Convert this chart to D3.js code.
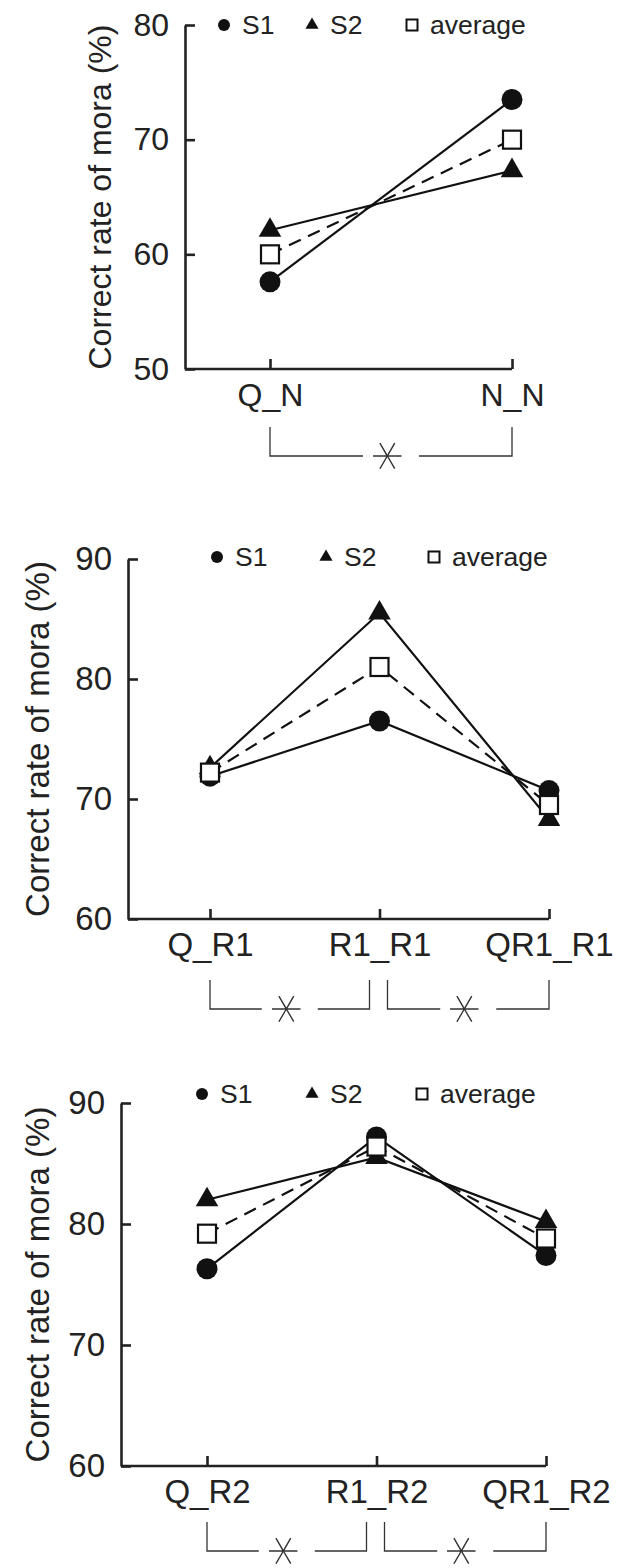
<!DOCTYPE html>
<html>
<head>
<meta charset="utf-8">
<script src="https://cdn.jsdelivr.net/npm/d3@7"></script>
<style>
  body { margin: 0; background: #fff; }
  svg { display: block; font-family: "Liberation Sans", Arial, sans-serif; }
</style>
</head>
<body>
<svg id="chart"></svg>
<script>
// panel 1
const cats1 = ["Q_N", "N_N"];
const s1_1 = [57.6, 73.5];
const s2_1 = [62.1, 67.3];
const avg_1 = [60.0, 70.0];
const yTicks1 = [50, 60, 70, 80];
const sig1 = [["Q_N", "N_N"]];

// panel 2
const cats2 = ["Q_R1", "R1_R1", "QR1_R1"];
const s1_2 = [71.9, 76.5, 70.7];
const s2_2 = [72.6, 85.5, 68.3];
const avg_2 = [72.2, 81.0, 69.5];
const yTicks2 = [60, 70, 80, 90];
const sig2 = [["Q_R1", "R1_R1"], ["R1_R1", "QR1_R1"]];

// panel 3
const cats3 = ["Q_R2", "R1_R2", "QR1_R2"];
const s1_3 = [76.3, 87.2, 77.4];
const s2_3 = [82.0, 85.5, 80.2];
const avg_3 = [79.2, 86.4, 78.8];
const yTicks3 = [60, 70, 80, 90];
const sig3 = [["Q_R2", "R1_R2"], ["R1_R2", "QR1_R2"]];

const seriesNames = ["S1", "S2", "average"];

class DotLineChart {

    constructor( config, data ){
        this.config = {
            parent: config.parent,
            axisX: config.axisX,
            xRange: config.xRange,
            yRange: config.yRange,
            yDomain: config.yDomain,
            titleX: config.titleX,
            fontSize: config.fontSize || 32,
            legend: config.legend,
            bracketY: config.bracketY,
        }
        this.data = data;
        this.init();
    }

    init(){
        let self = this;
        const c = self.config;

        self.chart = c.parent.append('g');

        self.xscale = d3.scalePoint()
            .domain( self.data.cats )
            .range( c.xRange );

        self.yscale = d3.scaleLinear()
            .domain( c.yDomain )
            .range( c.yRange );

        self.xaxis = d3.axisBottom( self.xscale )
            .tickSizeInner(-10)
            .tickSizeOuter(0)
            .tickPadding(14);

        self.yaxis = d3.axisLeft( self.yscale )
            .tickValues( self.data.yTicks )
            .tickSizeInner(-10)
            .tickSizeOuter(0)
            .tickPadding(16);
    }

    render(){
        let self = this;
        const c = self.config;
        const d = self.data;

        // axes
        const xg = self.chart.append('g')
            .attr('transform', `translate(0, ${c.yRange[0]})`)
            .call( self.xaxis );
        xg.select('.domain').remove();
        xg.append('line')
            .attr('x1', c.axisX).attr('x2', c.xRange[1]);

        const yg = self.chart.append('g')
            .attr('transform', `translate(${c.axisX}, 0)`)
            .call( self.yaxis );

        [xg, yg].forEach(g => {
            g.selectAll('path, line').attr('stroke', '#222').attr('stroke-width', 2.6);
            g.selectAll('text')
                .attr('fill', '#222')
                .attr('font-size', c.fontSize)
                .attr('font-family', '"Liberation Sans", Arial, sans-serif');
        });

        // y title
        self.chart.append('text')
            .attr('transform', `translate(${c.titleX}, ${(c.yRange[0] + c.yRange[1]) / 2}) rotate(-90)`)
            .attr('text-anchor', 'middle')
            .attr('dominant-baseline', 'central')
            .attr('font-size', c.fontSize)
            .attr('fill', '#222')
            .text('Correct rate of mora (%)');

        // lines
        const line = d3.line()
            .x( (v, i) => self.xscale(d.cats[i]) )
            .y( v => self.yscale(v) );

        const series = [
            { name: seriesNames[0], values: d.s1, dash: null },
            { name: seriesNames[1], values: d.s2, dash: null },
            { name: seriesNames[2], values: d.avg, dash: '13,8' },
        ];

        self.chart.selectAll('path.series')
            .data(series)
            .enter()
            .append('path')
            .attr('class', 'series')
            .attr('d', s => line(s.values))
            .attr('fill', 'none')
            .attr('stroke', '#111')
            .attr('stroke-width', 2.2)
            .attr('stroke-dasharray', s => s.dash);

        // markers
        const circ = d3.symbol().type(d3.symbolCircle).size(Math.PI * 10.5 * 10.5);
        const tri = d3.symbol().type(d3.symbolTriangle).size(220);

        self.chart.selectAll('path.m1')
            .data(d.s1).enter().append('path')
            .attr('transform', (v, i) => `translate(${self.xscale(d.cats[i])}, ${self.yscale(v)})`)
            .attr('d', circ)
            .attr('fill', '#111');

        self.chart.selectAll('path.m2')
            .data(d.s2).enter().append('path')
            .attr('transform', (v, i) => `translate(${self.xscale(d.cats[i])}, ${self.yscale(v)})`)
            .attr('d', tri)
            .attr('fill', '#111');

        self.chart.selectAll('rect.m3')
            .data(d.avg).enter().append('rect')
            .attr('x', (v, i) => self.xscale(d.cats[i]) - 9)
            .attr('y', v => self.yscale(v) - 9)
            .attr('width', 18).attr('height', 18)
            .attr('fill', '#fff')
            .attr('stroke', '#111')
            .attr('stroke-width', 2.2);

        // legend
        const lg = self.chart.append('g')
            .attr('transform', `translate(0, ${c.legend.y})`);
        const lsym = [
            d3.symbol().type(d3.symbolCircle).size(Math.PI * 6 * 6)(),
            d3.symbol().type(d3.symbolTriangle).size(75)(),
        ];
        seriesNames.forEach((name, i) => {
            const x = c.legend.xs[i];
            if (i < 2) {
                lg.append('path').attr('d', lsym[i])
                    .attr('transform', `translate(${x}, 0)`)
                    .attr('fill', '#111');
            } else {
                lg.append('rect')
                    .attr('x', x - 5.5).attr('y', -5.5)
                    .attr('width', 11).attr('height', 11)
                    .attr('fill', '#fff').attr('stroke', '#111').attr('stroke-width', 2);
            }
            lg.append('text')
                .attr('x', x + 18)
                .attr('y', 0)
                .attr('dominant-baseline', 'central')
                .attr('font-size', 26.5)
                .attr('fill', '#222')
                .text(name);
        });

        // significance brackets
        const bg = self.chart.append('g');
        d.sig.forEach(pair => {
            let x1 = self.xscale(pair[0]);
            let x2 = self.xscale(pair[1]);
            if (d.sig.length > 1) {
                if (pair[0] !== d.cats[0]) x1 += 8;
                if (pair[1] !== d.cats[d.cats.length - 1]) x2 -= 10;
            }
            const mid = (x1 + x2) / 2;
            const y0 = c.bracketY, y1 = c.bracketY + 29;
            bg.append('path')
                .attr('d', `M${mid - 28},${y1}H${x1}V${y0}`)
                .attr('fill', 'none').attr('stroke', '#333').attr('stroke-width', 1.3);
            bg.append('path')
                .attr('d', `M${mid + 28},${y1}H${x2}V${y0}`)
                .attr('fill', 'none').attr('stroke', '#333').attr('stroke-width', 1.3);
            // thin six-armed asterisk, turned so one arm stands upright
            bg.append('text')
                .attr('x', mid)
                .attr('y', y1 + 36)
                .attr('transform', `rotate(90, ${mid}, ${y1})`)
                .attr('text-anchor', 'middle')
                .attr('font-family', '"DejaVu Sans", sans-serif')
                .attr('font-weight', 200)
                .attr('font-size', 62)
                .attr('fill', '#333')
                .text('*');
        });
    }
}

const svg = d3.select('#chart')
    .attr('width', 622)
    .attr('height', 1568);

new DotLineChart({
    parent: svg,
    axisX: 185,
    xRange: [270, 512],
    yRange: [369, 25],
    yDomain: [50, 80],
    titleX: 100,
    fontSize: 32,
    legend: { y: 25, xs: [224, 312, 412] },
    bracketY: 427,
}, { cats: cats1, s1: s1_1, s2: s2_1, avg: avg_1, yTicks: yTicks1, sig: sig1 }).render();

new DotLineChart({
    parent: svg,
    axisX: 128,
    xRange: [210, 549],
    yRange: [919, 559],
    yDomain: [60, 90],
    titleX: 37,
    fontSize: 33,
    legend: { y: 557, xs: [217, 326, 434] },
    bracketY: 980,
}, { cats: cats2, s1: s1_2, s2: s2_2, avg: avg_2, yTicks: yTicks2, sig: sig2 }).render();

new DotLineChart({
    parent: svg,
    axisX: 121,
    xRange: [207, 546],
    yRange: [1466, 1103],
    yDomain: [60, 90],
    titleX: 37,
    fontSize: 33,
    legend: { y: 1094, xs: [202, 312, 422] },
    bracketY: 1522,
}, { cats: cats3, s1: s1_3, s2: s2_3, avg: avg_3, yTicks: yTicks3, sig: sig3 }).render();
</script>
</body>
</html>
